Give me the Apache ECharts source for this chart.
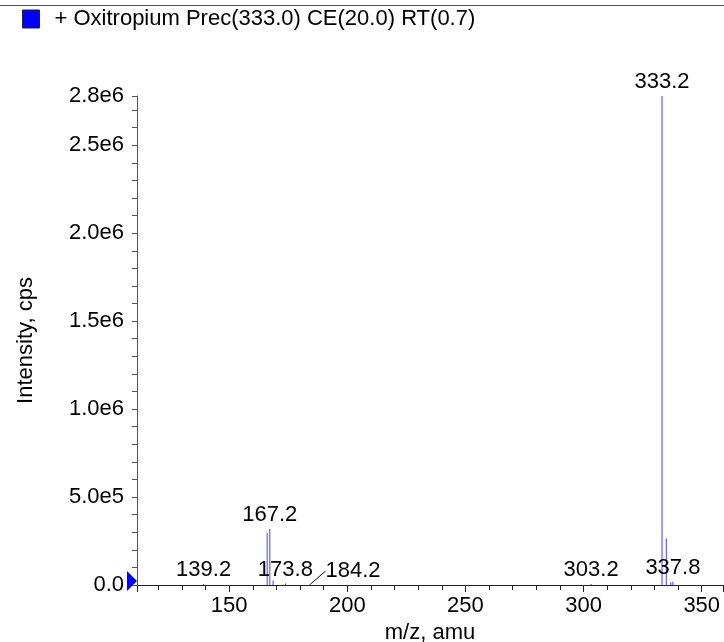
<!DOCTYPE html>
<html><head><meta charset="utf-8">
<script src="https://cdn.jsdelivr.net/npm/echarts@6/dist/echarts.min.js"></script>
<style>html,body{margin:0;padding:0;background:#fff}#c{width:724px;height:642px}</style>
</head><body><div id="c"></div>
<script>
const seriesName = '+ Oxitropium Prec(333.0) CE(20.0) RT(0.7)';
const mzValues = [139.2, 166.1, 167.2, 168.6, 173.8, 184.2, 303.2, 333.2, 335.0, 336.9, 337.8];
const intensities = [6000, 297000, 318000, 25000, 8000, 5000, 6000, 2780000, 265000, 15000, 20000];
const labeledPeaks = [139.2, 167.2, 173.8, 184.2, 303.2, 333.2, 337.8];
const offsetLabelPeaks = [184.2];
const xRange = [111, 359];
const yRange = [0, 2780000];
const xStep = 50;
const yInterval = 500000;
const axisNames = ['m/z, amu', 'Intensity, cps'];

const FONT = "'Liberation Sans', Arial, Helvetica, sans-serif";
const data = mzValues.map((mz, i) => {
  const item = { value: [mz, intensities[i]] };
  if (labeledPeaks.includes(mz)) {
    item.label = { show: true };
    if (offsetLabelPeaks.includes(mz)) {
      item.labelLine = { show: true, lineStyle: { color: '#000', width: 1 } };
    }
  }
  return item;
});

const chart = echarts.init(document.getElementById('c'), null, { renderer: 'canvas' });
chart.setOption({
  animation: false,
  backgroundColor: '#fff',
  textStyle: { fontFamily: FONT },
  graphic: [{
    type: 'line', shape: { x1: 0, y1: 5.5, x2: 724, y2: 5.5 },
    style: { stroke: '#555', lineWidth: 1 }, silent: true
  }],
  legend: {
    left: 17, top: 3, icon: 'rect', itemWidth: 17, itemHeight: 18,
    data: [{ name: seriesName, itemStyle: { color: '#0000ff', borderColor: '#222', borderWidth: 1 } }],
    textStyle: { fontSize: 22, color: '#000', fontFamily: FONT, padding: [0, 0, 0, 10] }
  },
  grid: { left: 137, right: 1, top: 96, bottom: 57, containLabel: false, outerBoundsMode: 'none' },
  xAxis: {
    type: 'value', min: xRange[0], max: xRange[1], splitNumber: 5,
    minInterval: xStep, maxInterval: xStep,
    name: axisNames[0], nameLocation: 'middle', nameGap: 36,
    nameTextStyle: { fontSize: 22, color: '#000', fontFamily: FONT },
    axisLine: { show: true, onZero: false, lineStyle: { color: '#222', width: 1 } },
    axisTick: { show: true, length: 7, lineStyle: { color: '#222' } },
    minorTick: { show: true, splitNumber: 5, length: 5, lineStyle: { color: '#222' } },
    splitLine: { show: false },
    axisLabel: {
      fontSize: 22, color: '#000', fontFamily: FONT, margin: 10,
      showMinLabel: false, showMaxLabel: false,
      formatter: v => (Math.abs(v % xStep) < 1e-9 ? String(v) : '')
    }
  },
  yAxis: {
    type: 'value', min: yRange[0], max: yRange[1], interval: yInterval,
    name: axisNames[1], nameLocation: 'middle', nameGap: 100,
    nameTextStyle: { fontSize: 22, color: '#000', fontFamily: FONT },
    axisLine: { show: true, lineStyle: { color: '#555', width: 1 } },
    axisTick: { show: true, length: 5, lineStyle: { color: '#555' } },
    minorTick: { show: true, splitNumber: 5, length: 5, lineStyle: { color: '#555' } },
    splitLine: { show: false },
    axisLabel: {
      fontSize: 22, color: '#000', fontFamily: FONT, margin: 13, showMaxLabel: true,
      formatter: v => (v === 0 ? '0.0' : v.toExponential(1).replace('+', ''))
    }
  },
  series: [{
    name: seriesName,
    type: 'bar',
    barWidth: 1,
    itemStyle: { color: '#4040ff' },
    label: {
      show: false, position: 'top', distance: 3, fontSize: 22, color: '#000', fontFamily: FONT,
      formatter: p => p.value[0].toFixed(1)
    },
    labelLayout: p => (offsetLabelPeaks.includes(mzValues[p.dataIndex]) ? { dx: 43, dy: 1 } : {}),
    data: data,
    markPoint: {
      silent: true,
      symbol: 'path://M0,0 L10,10 L0,20 Z',
      symbolSize: [10, 20],
      symbolOffset: [-5, -4],
      itemStyle: { color: '#0000ff' },
      label: { show: false },
      data: [{ coord: [xRange[0], 0] }]
    }
  }]
});
</script>
</body></html>
